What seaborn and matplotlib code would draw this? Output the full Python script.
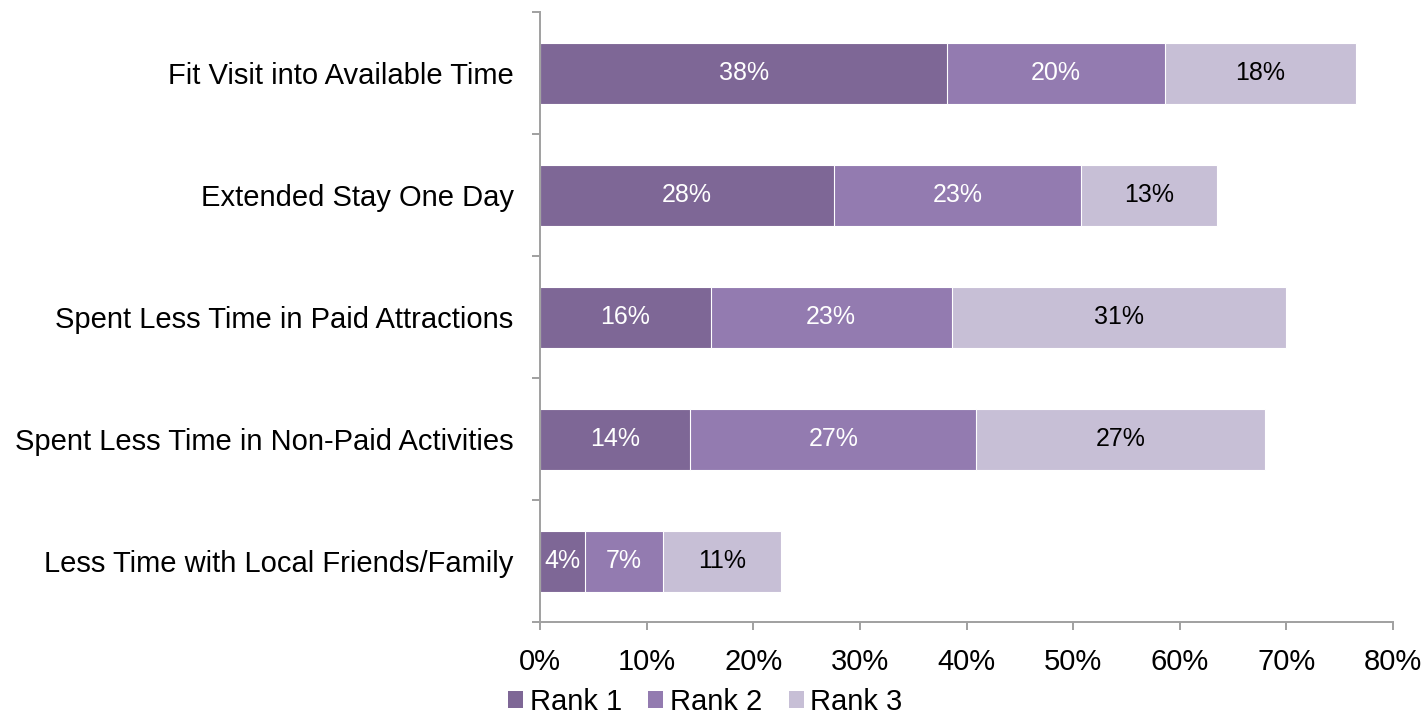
import matplotlib
matplotlib.use("Agg")
import matplotlib.pyplot as plt
from matplotlib.patches import Patch
import numpy as np
import pandas as pd
import seaborn as sns

categories = [
    "Fit Visit into Available Time",
    "Extended Stay One Day",
    "Spent Less Time in Paid Attractions",
    "Spent Less Time in Non-Paid Activities",
    "Less Time with Local Friends/Family",
]
rank1 = [38.2, 27.6, 16.0, 14.1, 4.2]
rank2 = [20.4, 23.1, 22.6, 26.8, 7.3]
rank3 = [17.9, 12.8, 31.4, 27.1, 11.1]
series_names = ["Rank 1", "Rank 2", "Rank 3"]
x_ticks = [0, 10, 20, 30, 40, 50, 60, 70, 80]

colors = ["#7e6796", "#937bb0", "#c7bfd6"]
text_colors = ["white", "white", "black"]
spine_color = "#a0a0a0"

sns.set_style("white")
plt.rcParams["font.family"] = ["Liberation Sans", "DejaVu Sans"]
plt.rcParams["text.color"] = "black"
plt.rcParams["xtick.labelcolor"] = "black"
plt.rcParams["ytick.labelcolor"] = "black"

df = pd.DataFrame({"category": categories, "Rank 1": rank1,
                   "Rank 2": rank2, "Rank 3": rank3})
# cumulative ends for stacking
df["end1"] = df["Rank 1"]
df["end2"] = df["end1"] + df["Rank 2"]
df["end3"] = df["end2"] + df["Rank 3"]

W, H = 1425, 722
fig = plt.figure(figsize=(W / 100, H / 100), dpi=100)
ax = fig.add_axes([540 / W, 1 - 622 / H, (1393 - 540) / W, (622 - 12) / H])

# draw from the longest stack down so earlier ranks sit on top
for end_col, col in zip(["end3", "end2", "end1"], colors[::-1]):
    sns.barplot(data=df, x=end_col, y="category", order=categories, color=col,
                saturation=1, width=0.5, edgecolor="white", linewidth=0.8, ax=ax)

# segment labels
starts = [np.zeros(len(df)), df["end1"].values, df["end2"].values]
for i, name in enumerate(series_names):
    for j, v in enumerate(df[name].values):
        ax.text(starts[i][j] + v / 2, j, f"{v:.0f}%", ha="center", va="center",
                fontsize=18, color=text_colors[i])

ax.set_xlim(0, 80)
ax.set_ylim(len(categories) - 0.5, -0.5)
ax.set_xticks(x_ticks)
ax.set_xticklabels([f"{t}%" for t in x_ticks], fontsize=21)
ax.set_xlabel("")
ax.set_ylabel("")

# tick marks between categories, labels at category centres
ax.set_yticks(np.arange(-0.5, len(categories)), labels=[""] * (len(categories) + 1))
ax.set_yticks(np.arange(len(categories)), labels=categories, minor=True)
ax.tick_params(axis="y", which="minor", length=0, pad=19, labelsize=21)
ax.tick_params(axis="y", which="major", length=6, width=1.4, color=spine_color, direction="out")
ax.tick_params(axis="x", length=6, width=1.4, color=spine_color, direction="out", pad=13)
ax.tick_params(left=True, bottom=True)

for side in ["top", "right"]:
    ax.spines[side].set_visible(False)
for side in ["left", "bottom"]:
    ax.spines[side].set_color(spine_color)
    ax.spines[side].set_linewidth(1.4)

handles = [Patch(facecolor=c, edgecolor="none", label=n) for c, n in zip(colors, series_names)]
fig.legend(handles=handles, loc="lower center", bbox_to_anchor=(0.495, -0.016), ncol=3,
           frameon=False, fontsize=21, handlelength=0.51, handleheight=0.51,
           handletextpad=0.24, columnspacing=0.9, borderpad=0.1)

fig.savefig("out.png", dpi=100)
